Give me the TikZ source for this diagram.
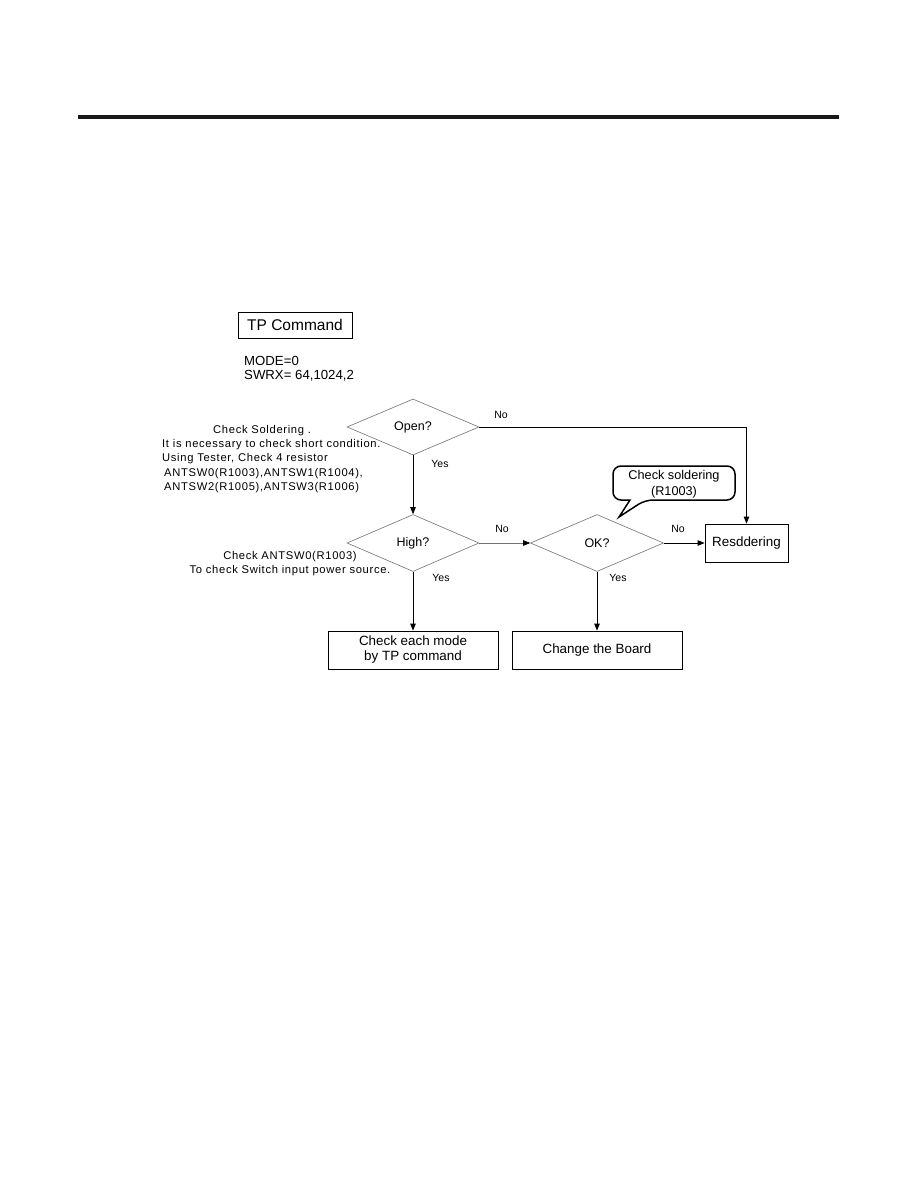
\documentclass[tikz,border=0pt]{standalone}
\usepackage{fontspec}
\setmainfont{Liberation Sans}
\newfontfamily\spaced[LetterSpace=6]{Liberation Sans}
\usetikzlibrary{shapes.geometric,arrows.meta}
\begin{document}
\begin{tikzpicture}[x=1pt,y=-1pt,
  box/.style={draw=black,line width=0.8pt,rectangle,inner sep=0pt,font=\fontsize{13.4}{15}\selectfont,align=center},
  decision/.style={draw=black!55,line width=0.6pt,diamond,inner sep=0pt,minimum width=132pt,minimum height=56pt,font=\fontsize{12.5}{14}\selectfont},
  note/.style={anchor=west,inner sep=0pt,font=\spaced\fontsize{11.2}{13}\selectfont},
  lbl/.style={inner sep=0pt,font=\fontsize{10.5}{12}\selectfont},
  conn/.style={line width=0.8pt,draw=black,-{Triangle[length=7pt,width=5.5pt]}}
]
\useasboundingbox (0,0) rectangle (918,1188);
\fill[white] (0,0) rectangle (918,1188);
% top rule
\draw[line width=4pt,black!90] (78,117) -- (839,117);

% header
\node[box,minimum width=114pt,minimum height=26pt,font=\fontsize{15.5}{17}\selectfont] (tp) at (295,325) {TP Command};
\node[anchor=west,inner sep=0pt,font=\fontsize{13.2}{15}\selectfont] (mode) at (244,361) {MODE=0};
\node[anchor=west,inner sep=0pt,font=\fontsize{13.2}{15}\selectfont] (swrx) at (244,375.5) {SWRX= 64,1024,2};

% decisions
\node[decision] (open) at (413,427) {Open?};
\node[decision,minimum height=57pt] (high) at (413,543) {High?};
\node[decision,minimum width=133pt,minimum height=57pt] (ok) at (597,543) {OK?};

% boxes
\node[box,minimum width=170pt,minimum height=38pt] (mode2) at (413,650) {Check each mode\\ by TP command};
\node[box,minimum width=170pt,minimum height=38pt] (board) at (597,650) {Change the Board};
\node[box,minimum width=83pt,minimum height=38pt] (res) at (746.5,543) {Resddering};

% notes
\node[note] (n1) at (213,430.5) {Check Soldering .};
\node[note] (n2) at (162,444.5) {It is necessary to check short condition.};
\node[note] (n3) at (162,459) {Using Tester, Check 4 resistor};
\node[note] (n4) at (164,473.5) {ANTSW0(R1003),ANTSW1(R1004),};
\node[note] (n5) at (164,488) {ANTSW2(R1005),ANTSW3(R1006)};
\node[note,anchor=center] (n6) at (290,556.5) {Check ANTSW0(R1003)};
\node[note,anchor=center] (n7) at (290,571) {To check Switch input power source.};

% callout
\draw[line width=1.5pt,fill=white] (630,500) [rounded corners=8pt] -- (613,500) -- (613,466) -- (735,466) -- (735,500) -- (645,500) [sharp corners] -- (619,517) -- cycle;
\node[inner sep=0pt,align=center,font=\fontsize{12.7}{16}\selectfont] (call) at (674,484) {Check soldering\\(R1003)};

% connectors
\draw[conn] (open.south) -- (high.north);
\draw[conn] (high.south) -- (mode2.north);
\draw[line width=0.6pt,draw=black!55,-{Triangle[length=7pt,width=5.5pt,fill=black,color=black]}] (high.east) -- (ok.west);
\draw[conn] (ok.east) -- (res.west);
\draw[conn] (ok.south) -- (board.north);
\draw[conn] (open.east) -| (res.north);

% labels
\node[lbl] (no1) at (501,414.5) {No};
\node[lbl] (yes1) at (440,464) {Yes};
\node[lbl] (no2) at (502,529) {No};
\node[lbl] (yes2) at (441,578) {Yes};
\node[lbl] (no3) at (678,529) {No};
\node[lbl] (yes3) at (618,578) {Yes};
\end{tikzpicture}
\end{document}
